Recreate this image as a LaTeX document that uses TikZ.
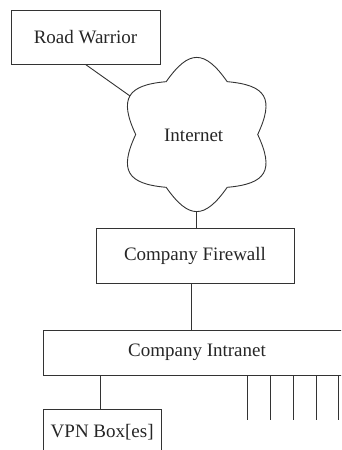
\documentclass[tikz,border=0pt]{standalone}
\usepackage{fontspec}
\setmainfont{Liberation Serif}
\usetikzlibrary{calc}
\begin{document}
\begin{tikzpicture}[x=1pt,y=1pt,
  ln/.style={draw=black!80,line width=0.9pt},
  boxnode/.style={ln,rectangle,inner sep=0pt,font=\fontsize{19}{22}\selectfont,text=black!85}]
\useasboundingbox (0,0) rectangle (341,450);
\clip (0,0) rectangle (341,450);
% boxes
\node[boxnode,minimum width=149pt,minimum height=54pt] (rw) at (85.5,413) {Road Warrior};
\node[boxnode,minimum width=198pt,minimum height=55.3pt] (fw) at (195,194.3) {Company Firewall};
\node[boxnode,minimum width=308pt,minimum height=45pt] (intr) at (197,97.5) {Company Intranet};
\node[boxnode,minimum width=117.7pt,minimum height=44.7pt] (vpn) at (102.2,18.3) {VPN Box[es]};
% cloud
\coordinate (c) at (196.7,315.5);
\draw[ln] ($(c)+(0:61pt)$)
  to[out=65,in=-5,looseness=1.66] ($(c)+(60:61pt)$)
  to[out=125,in=55,looseness=1.66] ($(c)+(120:61pt)$)
  to[out=185,in=115,looseness=1.66] ($(c)+(180:61pt)$)
  to[out=245,in=175,looseness=1.66] ($(c)+(240:61pt)$)
  to[out=305,in=235,looseness=1.66] ($(c)+(300:61pt)$)
  to[out=5,in=295,looseness=1.66] ($(c)+(0:61pt)$) -- cycle;
\node[font=\fontsize{19}{22}\selectfont,text=black!85] (inet) at ($(c)+(-3,-1)$) {Internet};
\coordinate (ul) at ($(c)+(150:77pt)$);
\coordinate (cb) at ($(c)+(270:77.2pt)$);
% connectors
\draw[ln] (rw.south) -- (ul);
\draw[ln] (cb) -- (cb |- fw.north);
\coordinate (fwout) at ([xshift=-4pt]fw.south);
\draw[ln] (fwout) -- (fwout |- intr.north);
\coordinate (vpnin) at ([xshift=-1.5pt]vpn.north);
\draw[ln] (vpnin |- intr.south) -- (vpnin);
\foreach \i/\x in {1/247.7,2/270.3,3/293.3,4/316,5/338.7}{
  \coordinate (t\i) at (\x,30);
  \draw[ln] (t\i |- intr.south) -- (t\i);
}
\end{tikzpicture}
\end{document}
